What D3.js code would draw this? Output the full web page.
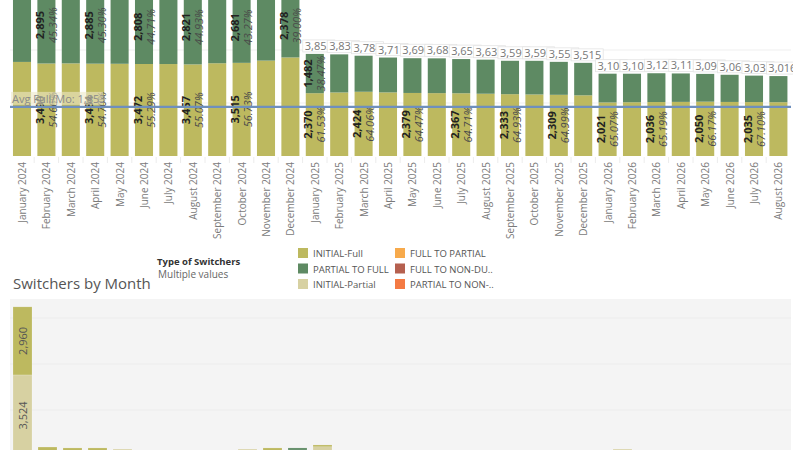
<!DOCTYPE html>
<html>
<head>
<meta charset="utf-8">
<title>Switchers</title>
<style>
  body { margin: 0; padding: 0; background: #fff; font-family: "Open Sans", Arial, sans-serif; }
  svg { display: block; }
</style>
</head>
<body>
<svg id="chart" width="800" height="450"></svg>
<script src="https://d3js.org/d3.v7.min.js"></script>
<script>
// months on the top chart
const months = ['January 2024','February 2024','March 2024','April 2024','May 2024','June 2024',
  'July 2024','August 2024','September 2024','October 2024','November 2024','December 2024',
  'January 2025','February 2025','March 2025','April 2025','May 2025','June 2025',
  'July 2025','August 2025','September 2025','October 2025','November 2025','December 2025',
  'January 2026','February 2026','March 2026','April 2026','May 2026','June 2026',
  'July 2026','August 2026'];

// INITIAL-Full and PARTIAL TO FULL per month
const fullVals = [3550, 3490, 3495, 3484, 3480, 3472, 3470, 3457, 3500, 3515, 3600, 3719,
  2370, 2398, 2424, 2400, 2379, 2372, 2367, 2350, 2333, 2322, 2309, 2290,
  2021, 2028, 2036, 2042, 2050, 2040, 2035, 2030];
const partVals = [2900, 2895, 2890, 2885, 2850, 2808, 2815, 2821, 2750, 2681, 2560, 2378,
  1482, 1437, 1360, 1315, 1311, 1313, 1291, 1285, 1260, 1270, 1244, 1225,
  1085, 1077, 1087, 1073, 1048, 1025, 998, 986];

// which bars show their labels (tableau hides overlapping ones)
const fullLabelIdx = [1, 3, 5, 7, 9, 12, 14, 16, 18, 20, 22, 24, 26, 28, 30];
const partLabelIdx = [1, 3, 5, 7, 9, 11, 12];
const totalLabelFrom = 12;

const avgFull = 1853;

// bottom chart: Switchers by Month (stacked, bottom to top)
const botMonths = months.slice(0, 31);
const botPartial = [3524, 250, 250, 250, 300, 0, 0, 0, 0, 300, 250, 200, 400,
  0, 0, 0, 0, 0, 0, 0, 0, 0, 0, 0, 300, 0, 0, 0, 0, 0, 0];
const botFull = [2960, 140, 100, 100, 0, 0, 0, 0, 0, 0, 100, 60, 80,
  0, 0, 0, 0, 0, 0, 0, 0, 0, 0, 0, 0, 0, 0, 0, 0, 0, 0];
const botPartToFull = [0, 0, 0, 0, 0, 0, 0, 0, 0, 0, 0, 90, 0,
  0, 0, 0, 0, 0, 0, 0, 0, 0, 0, 0, 0, 0, 0, 0, 0, 0, 0];

const legendItems = ['INITIAL-Full', 'PARTIAL TO FULL', 'INITIAL-Partial',
  'FULL TO PARTIAL', 'FULL TO NON-DU..', 'PARTIAL TO NON-..'];
const legendColors = ['#bdb95f', '#5e8a63', '#d7d1a2', '#f7aa4c', '#b5604f', '#f47a43'];

const fmt = d3.format(',');
const pct = d3.format('.2%');

const svg = d3.select('#chart');

svg.append('clipPath').attr('id', 'topclip')
  .append('rect').attr('x', 0).attr('y', 0).attr('width', 793).attr('height', 250);

// ---------- top chart ----------
const x = d3.scaleBand().domain(months).range([9.8, 790.6])
  .paddingInner(0.26).paddingOuter(0.13);
const y = d3.scaleLinear().domain([0, 6000]).range([156, -3]);

const topG = svg.append('g').attr('clip-path', 'url(#topclip)');

topG.selectAll('line.grid').data([2000, 4000]).join('line')
  .attr('x1', 10).attr('x2', 791)
  .attr('y1', d => y(d)).attr('y2', d => y(d))
  .attr('stroke', '#efefef').attr('stroke-width', 1);

const rows = months.map((m, i) => ({ m, i, full: fullVals[i], part: partVals[i], total: fullVals[i] + partVals[i] }));

topG.selectAll('rect.full').data(rows).join('rect')
  .attr('x', d => x(d.m)).attr('width', x.bandwidth())
  .attr('y', d => y(d.full)).attr('height', d => y(0) - y(d.full))
  .attr('fill', legendColors[0]);

topG.selectAll('rect.part').data(rows).join('rect')
  .attr('x', d => x(d.m)).attr('width', x.bandwidth())
  .attr('y', d => y(d.total)).attr('height', d => y(d.full) - y(d.total))
  .attr('fill', legendColors[1]);

// in-bar labels, rotated
function segLabel(data, lo, hi, valFn) {
  const g = topG.selectAll(null).data(data).join('g')
    .attr('transform', d => `translate(${x(d.m) + x.bandwidth() / 2},${(y(lo(d)) + y(hi(d))) / 2})`);
  g.append('text')
    .attr('transform', 'translate(-7,0) rotate(-90)')
    .attr('text-anchor', 'middle').attr('dominant-baseline', 'central')
    .attr('font-size', 11).attr('font-weight', 'bold').attr('fill', '#222')
    .text(d => fmt(valFn(d)));
  g.append('text')
    .attr('transform', 'translate(6,0) rotate(-90)')
    .attr('text-anchor', 'middle').attr('dominant-baseline', 'central')
    .attr('font-size', 11).attr('font-style', 'italic').attr('fill', '#4a4a4a')
    .text(d => pct(valFn(d) / d.total));
}
segLabel(rows.filter(d => fullLabelIdx.includes(d.i)), d => 0, d => d.full, d => d.full);
segLabel(rows.filter(d => partLabelIdx.includes(d.i)), d => d.full, d => d.total, d => d.part);

// total labels in white boxes, later ones cover earlier text
const tot = topG.selectAll('g.tot').data(rows.filter(d => d.i >= totalLabelFrom)).join('g')
  .attr('transform', d => `translate(${x(d.m) - 3},${y(d.total) - 2})`);
tot.append('rect')
  .attr('x', 0).attr('y', -12).attr('width', 32).attr('height', 12)
  .attr('fill', '#fff').attr('stroke', '#e4e4e4').attr('stroke-width', 0.8);
tot.append('text')
  .attr('x', 2).attr('y', -2)
  .attr('font-size', 11).attr('fill', '#777')
  .text(d => fmt(d.total));

// average reference line
topG.append('line')
  .attr('x1', 10).attr('x2', 791)
  .attr('y1', y(avgFull)).attr('y2', y(avgFull))
  .attr('stroke', '#6e8fbd').attr('stroke-width', 2.2);
topG.append('rect')
  .attr('x', 11).attr('y', y(avgFull) - 15).attr('width', 92).attr('height', 13)
  .attr('fill', '#ece8c8').attr('opacity', 0.6);
topG.append('text')
  .attr('x', 12).attr('y', y(avgFull) - 4)
  .attr('font-size', 11).attr('fill', '#8a8a8a')
  .text('Avg Full/Mo: ' + fmt(avgFull));

// x axis labels
topG.selectAll('line.tick').data(months.slice(1)).join('line')
  .attr('x1', d => x(d) - x.step() * x.paddingInner() / 2)
  .attr('x2', d => x(d) - x.step() * x.paddingInner() / 2)
  .attr('y1', 157).attr('y2', 163)
  .attr('stroke', '#ececec');
topG.selectAll('text.xl').data(months).join('text')
  .attr('transform', d => `translate(${x(d) + x.bandwidth() / 2 + 4},162) rotate(-90)`)
  .attr('text-anchor', 'end')
  .attr('font-size', 10).attr('fill', '#7a7a7a')
  .text(d => d);

// ---------- legend ----------
svg.append('text').attr('x', 157).attr('y', 265)
  .attr('font-size', 9.5).attr('font-weight', 'bold').attr('fill', '#333')
  .text('Type of Switchers');
svg.append('text').attr('x', 158).attr('y', 278)
  .attr('font-size', 10).attr('fill', '#666')
  .text('Multiple values');

const leg = svg.selectAll('g.leg').data(legendItems).join('g')
  .attr('transform', (d, i) => `translate(${i < 3 ? 298 : 395},${248 + (i % 3) * 15.5})`);
leg.append('rect').attr('width', 10).attr('height', 10)
  .attr('fill', (d, i) => legendColors[i]);
leg.append('text').attr('x', 15).attr('y', 9)
  .attr('font-size', 9.5).attr('fill', '#555')
  .text(d => d);

// ---------- bottom chart ----------
svg.append('text').attr('x', 13).attr('y', 289)
  .attr('font-size', 15).attr('fill', '#555')
  .text('Switchers by Month');

svg.append('rect').attr('x', 10).attr('y', 299).attr('width', 781).attr('height', 160)
  .attr('fill', '#f4f4f4');

const xb = d3.scaleBand().domain(botMonths).range([10, 785])
  .paddingInner(0.24).paddingOuter(0.12);
const yb = d3.scaleLinear().domain([0, 6000]).range([456, 318]);

svg.selectAll('line.bgrid').data([2000, 4000, 6000]).join('line')
  .attr('x1', 10).attr('x2', 791)
  .attr('y1', d => yb(d)).attr('y2', d => yb(d))
  .attr('stroke', '#ececec');

const stackData = botMonths.map((m, i) => ({ m, partial: botPartial[i], full: botFull[i], ptf: botPartToFull[i] }));
const stack = d3.stack().keys(['partial', 'full', 'ptf'])(stackData);
const botColors = { partial: legendColors[2], full: legendColors[0], ptf: legendColors[1] };

svg.append('g').selectAll('g').data(stack).join('g')
  .attr('fill', d => botColors[d.key])
  .selectAll('rect').data(d => d.filter(s => s[1] > s[0])).join('rect')
  .attr('x', d => xb(d.data.m)).attr('width', xb.bandwidth())
  .attr('y', d => yb(d[1])).attr('height', d => yb(d[0]) - yb(d[1]))
  .attr('stroke', '#fff').attr('stroke-opacity', 0.35).attr('stroke-width', 0.5);

// labels in first bar
const first = stack.map(s => s[0]).filter(s => s[1] > s[0] && s[1] - s[0] > 1000);
svg.selectAll('text.bl').data(first).join('text')
  .attr('transform', d => `translate(${xb(d.data.m) + xb.bandwidth() / 2},${(yb(d[0]) + yb(d[1])) / 2}) rotate(-90)`)
  .attr('text-anchor', 'middle').attr('dominant-baseline', 'central')
  .attr('font-size', 11).attr('fill', '#555')
  .text(d => fmt(d[1] - d[0]));
</script>
</body>
</html>
